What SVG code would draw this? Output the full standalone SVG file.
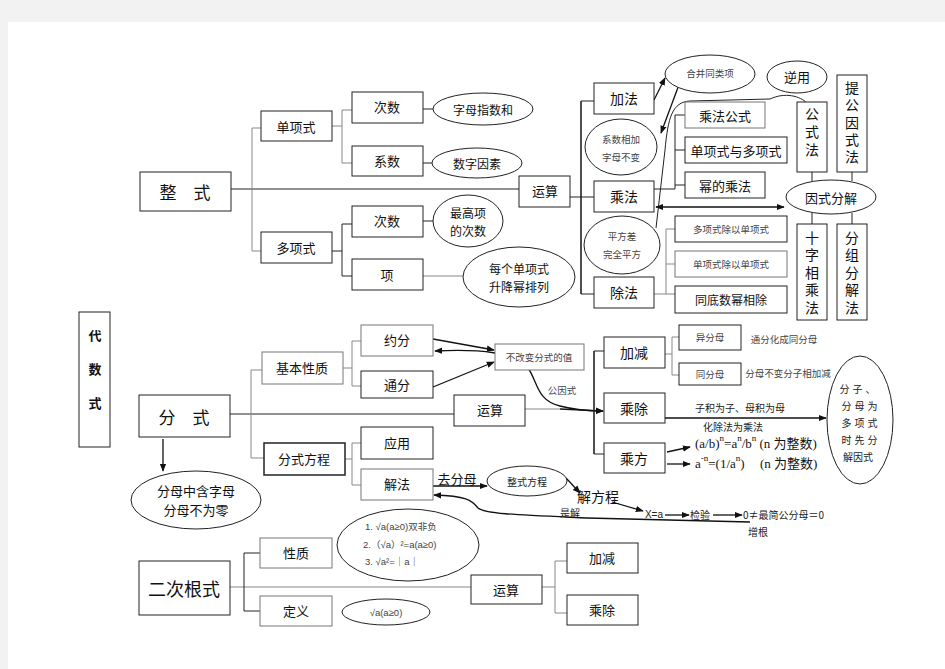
<svg xmlns="http://www.w3.org/2000/svg" width="945" height="669" viewBox="0 0 945 669">
<defs>
<marker id="ar" viewBox="0 0 10 10" refX="9" refY="5" markerWidth="8" markerHeight="8" markerUnits="userSpaceOnUse" orient="auto-start-reverse"><path d="M0,1 L10,5 L0,9 z" fill="#111"/></marker>
<style>
.b{fill:#fff;stroke:#222;stroke-width:1}
.bg{fill:#fff;stroke:#777;stroke-width:1}
.e{fill:#fff;stroke:#222;stroke-width:1}
.l{stroke:#222;stroke-width:1;fill:none}
.lg{stroke:#888;stroke-width:1;fill:none}
.a{stroke:#111;stroke-width:1.3;fill:none;marker-end:url(#ar)}
.t{font-family:"Noto Sans CJK SC","Liberation Sans",sans-serif;font-size:13px;fill:#111;text-anchor:middle;dominant-baseline:central}
.s{font-size:9.5px;fill:#444}
.m{font-size:10px;fill:#222}
.z12{font-size:12px}
.z14{font-size:14px}
.z17{font-size:17px}
.z18{font-size:18px}
.st{text-anchor:start}
.v{writing-mode:vertical-rl;dominant-baseline:auto}
.r{font-family:"Liberation Sans","Noto Sans CJK SC",sans-serif}
.f{font-family:"Liberation Serif","Noto Sans CJK SC",serif;font-size:13px;fill:#111;dominant-baseline:central}
.sup{font-size:9px}
</style>
</defs>
<rect x="0" y="0" width="945" height="669" fill="#f2f2f2"/>
<rect x="8" y="22" width="937" height="647" fill="#fff"/>

<g id="connectors">
<path class="l" d="M231 189 H519"/>
<path class="lg" d="M252 128 V251 M252 128 H261 M252 251 H261"/>
<path class="lg" d="M332 126 H342 M342 110 V163 M342 110 H352 M342 163 H352"/>
<path class="l" d="M332 251 H342 M342 224 V276 M342 224 H352 M342 276 H352"/>
<path class="l" d="M423 109 H433 M423 163 H432 M423 221 H433"/>
<path class="lg" d="M423 276 H463"/>
<path class="l" d="M570 197 H581"/>
<path class="l" style="stroke-width:1.6" d="M581 101 V294"/>
<path class="l" d="M581 101 H594 M581 197 H594 M581 294 H594"/>
<path class="a" d="M654 100 L665 78"/>
<path class="a" d="M680 82 L661 133"/>
<path class="l" d="M807 103 C800 96,785 92,770 99 L690 101 C672 102,668 118,665 150 L656 228"/>
<path class="l" d="M654 189 H675 M675 115 V189 M675 115 H685 M675 150 H685 M675 185 H685"/>
<path class="l" d="M812 172 V181 M852 172 V181 M812 213 V224 M852 213 V224"/>
<path class="a" style="marker-start:url(#ar)" d="M656 207 H784"/>
<path class="lg" d="M654 294 H666 M666 229 V294 M666 229 H675 M666 264 H675 M666 294 H675"/>
<path class="l" d="M230 414 H454"/>
<path class="lg" d="M251 370 V458 M251 370 H262 M251 458 H264"/>
<path class="lg" d="M343 368 H352 M352 341 V386 M352 341 H361 M352 386 H361"/>
<path class="lg" d="M345 459 H352 M352 443 V485 M352 443 H361 M352 485 H361"/>
<path class="a" d="M433 339 L494 350"/>
<path class="a" d="M433 387 L494 362"/>
<path class="a" style="marker-start:url(#ar)" d="M435 351 C480 349,515 352,528 368 C538 382,536 400,560 406 C575 410,590 411,603 411"/>
<path class="lg" d="M525 409 H560"/>
<path class="a" d="M560 409 L603 411"/>
<path class="l" style="stroke-width:1.6" d="M594 351 V454"/>
<path class="l" d="M594 351 H604 M594 454 H604"/>
<path class="lg" d="M665 354 H672 M672 337 V375 M672 337 H679 M672 375 H679"/>
<path class="a" d="M665 418 H826"/>
<path class="a" d="M667 452 L690 447"/>
<path class="a" d="M667 464 H690"/>
<path class="a" d="M163 439 V471"/>
<path class="a" d="M433 486 H487"/>
<path class="a" d="M566 478 L580 493"/>
<path class="a" d="M612 502 L643 511"/>
<path class="a" d="M665 515 H689"/>
<path class="a" d="M713 515 H742"/>
<path class="a" d="M750 522 L587 518 C520 515,485 514,478 508 C472 500,466 496,434 495"/>
<path class="lg" d="M230 587 H471"/>
<path class="l" d="M244 553 V611 M244 553 H260 M244 611 H260"/>
<path class="lg" d="M542 587 H555 M555 561 V613 M555 561 H567 M555 613 H567"/>
</g>

<g id="n-daishushi"><rect class="b" x="79" y="312" width="31" height="135"/><text class="t v" x="95" y="380" font-weight="bold" letter-spacing="21">代数式</text></g>

<g id="n-zhengshi"><rect class="b" x="140" y="172" width="91" height="39"/><text class="t z17" x="185" y="191">整　式</text></g>
<g id="n-danxiangshi"><rect class="b" x="261" y="111" width="71" height="30"/><text class="t" x="296" y="126">单项式</text></g>
<g id="n-duoxiangshi"><rect class="b" x="261" y="232" width="71" height="31"/><text class="t" x="296" y="247">多项式</text></g>
<g id="n-cishu1"><rect class="b" x="352" y="92" width="71" height="31"/><text class="t" x="387" y="106">次数</text></g>
<g id="n-xishu"><rect class="b" x="352" y="146" width="71" height="30"/><text class="t" x="387" y="160">系数</text></g>
<g id="n-cishu2"><rect class="b" x="352" y="206" width="71" height="31"/><text class="t" x="387" y="220">次数</text></g>
<g id="n-xiang"><rect class="b" x="352" y="259" width="71" height="31"/><text class="t" x="387" y="274">项</text></g>
<g id="e-zimu"><ellipse class="e" cx="483" cy="109" rx="50" ry="16"/><text class="t z12" x="483" y="109">字母指数和</text></g>
<g id="e-shuzi"><ellipse class="e" cx="477" cy="163" rx="45" ry="15"/><text class="t z12" x="477" y="163">数字因素</text></g>
<g id="e-zuigao"><ellipse class="e" cx="468" cy="221" rx="35" ry="26"/><text class="t z12" x="468" y="212">最高项<tspan x="468" dy="17.5">的次数</tspan></text></g>
<g id="e-meige"><ellipse class="e" cx="519" cy="277" rx="56" ry="30"/><text class="t z12" x="519" y="268">每个单项式<tspan x="519" dy="17.5">升降幂排列</tspan></text></g>
<g id="n-yunsuan1"><rect class="b" x="519" y="176" width="51" height="31"/><text class="t" x="545" y="190">运算</text></g>

<g id="n-jiafa"><rect class="b" x="594" y="83" width="60" height="31"/><text class="t z14" x="624" y="98">加法</text></g>
<g id="n-chengfa"><rect class="b" x="594" y="181" width="60" height="31"/><text class="t z14" x="624" y="196">乘法</text></g>
<g id="n-chufa"><rect class="b" x="594" y="277" width="60" height="31"/><text class="t z14" x="624" y="292">除法</text></g>
<g id="e-hebing"><ellipse class="e" cx="710" cy="74" rx="45" ry="19"/><text class="t s" x="710" y="73">合并同类项</text></g>
<g id="e-xishuxiangjia"><ellipse class="e" cx="621" cy="147" rx="36" ry="28"/><text class="t s" x="621" y="139">系数相加<tspan x="621" dy="18">字母不变</tspan></text></g>
<g id="e-pingfangcha"><ellipse class="e" cx="622" cy="245" rx="38" ry="29"/><text class="t s" x="622" y="236">平方差<tspan x="622" dy="18">完全平方</tspan></text></g>
<g id="e-niyong"><ellipse class="e" cx="797" cy="77" rx="30" ry="16"/><text class="t" x="797" y="76">逆用</text></g>
<g id="n-chengfagongshi"><rect class="bg" x="685" y="102" width="80" height="26"/><text class="t" x="725" y="115">乘法公式</text></g>
<g id="n-danxiangshiyu"><rect class="b" x="685" y="137" width="102" height="26"/><text class="t" x="736" y="150">单项式与多项式</text></g>
<g id="n-mi"><rect class="b" x="685" y="172" width="80" height="26"/><text class="t" x="725" y="185">幂的乘法</text></g>
<g id="n-gongshifa"><rect class="b" x="797" y="102" width="30" height="70"/><text class="t z14 v" x="812" y="134" letter-spacing="4">公式法</text></g>
<g id="n-tigong"><rect class="b" x="837" y="75" width="30" height="97"/><text class="t z14 v" x="852" y="124" letter-spacing="3.3">提公因式法</text></g>
<g id="e-yinshi"><ellipse class="e" cx="831" cy="197" rx="45" ry="17"/><text class="t" x="831" y="197">因式分解</text></g>
<g id="n-shizi"><rect class="b" x="797" y="224" width="30" height="96"/><text class="t z14 v" x="812" y="274" letter-spacing="3.5">十字相乘法</text></g>
<g id="n-fenzu"><rect class="b" x="837" y="224" width="30" height="96"/><text class="t z14 v" x="852" y="274" letter-spacing="3.5">分组分解法</text></g>
<g id="n-duoxiangchu"><rect class="b" x="675" y="216" width="112" height="26"/><text class="t s" x="731" y="229">多项式除以单项式</text></g>
<g id="n-danxiangchu"><rect class="bg" x="675" y="251" width="112" height="26"/><text class="t s" x="731" y="264">单项式除以单项式</text></g>
<g id="n-tongdi"><rect class="b" x="675" y="286" width="112" height="27"/><text class="t z12" x="731" y="299">同底数幂相除</text></g>

<g id="n-fenshi"><rect class="b" x="139" y="395" width="91" height="42"/><text class="t z17" x="184" y="416">分　式</text></g>
<g id="n-jiben"><rect class="bg" x="262" y="352" width="81" height="32"/><text class="t" x="302" y="367">基本性质</text></g>
<g id="n-fenshifangcheng"><rect class="b" style="stroke-width:1.5" x="264" y="443" width="81" height="32"/><text class="t" x="304" y="458">分式方程</text></g>
<g id="n-yuefen"><rect class="bg" x="361" y="325" width="72" height="31"/><text class="t" x="397" y="339">约分</text></g>
<g id="n-tongfen"><rect class="b" x="361" y="371" width="72" height="27"/><text class="t" x="397" y="384">通分</text></g>
<g id="n-bugaibian"><rect class="bg" x="495" y="344" width="89" height="26"/><text class="t s" x="539" y="357">不改变分式的值</text></g>
<text class="t s" x="562" y="390">公因式</text>
<g id="n-yunsuan2"><rect class="b" x="454" y="395" width="71" height="31"/><text class="t" x="490" y="409">运算</text></g>
<g id="n-jiajian"><rect class="b" x="604" y="337" width="61" height="31"/><text class="t z14" x="634" y="352">加减</text></g>
<g id="n-chengchu"><rect class="b" x="604" y="393" width="61" height="30"/><text class="t z14" x="634" y="408">乘除</text></g>
<g id="n-chengfang"><rect class="b" x="604" y="443" width="61" height="30"/><text class="t z14" x="634" y="458">乘方</text></g>
<g id="n-yifenmu"><rect class="b" x="679" y="325" width="62" height="25"/><text class="t s" x="710" y="337">异分母</text></g>
<g id="n-tongfenmu"><rect class="b" x="679" y="363" width="62" height="22"/><text class="t s" x="710" y="374">同分母</text></g>
<text class="t s" x="784" y="339">通分化成同分母</text>
<text class="t s" x="788" y="373">分母不变分子相加减</text>
<text class="t m" x="740" y="407">子积为子、母积为母</text>
<text class="t m" x="733" y="426">化除法为乘法</text>
<g id="e-big"><ellipse class="e" cx="860" cy="420" rx="33" ry="64"/><text class="t m" x="859" y="388" letter-spacing="3">分子、<tspan x="861" dy="17">分母为</tspan><tspan x="861" dy="17">多项式</tspan><tspan x="861" dy="17">时先分</tspan><tspan x="858" dy="17" letter-spacing="0">解因式</tspan></text></g>
<text class="f" x="695" y="443">(a/b)<tspan class="sup" dy="-5">n</tspan><tspan dy="5">=a</tspan><tspan class="sup" dy="-5">n</tspan><tspan dy="5">/b</tspan><tspan class="sup" dy="-5">n</tspan><tspan dy="5"> (n 为整数)</tspan></text>
<text class="f" x="695" y="463">a<tspan class="sup" dy="-5">-n</tspan><tspan dy="5">=(1/a</tspan><tspan class="sup" dy="-5">n</tspan><tspan dy="5">)</tspan><tspan x="760">(n 为整数)</tspan></text>

<g id="e-fenmu"><ellipse class="e" cx="196" cy="500" rx="65" ry="29"/><text class="t" x="196" y="490">分母中含字母<tspan x="196" dy="19">分母不为零</tspan></text></g>
<g id="n-yingyong"><rect class="b" x="361" y="427" width="72" height="32"/><text class="t" x="397" y="442">应用</text></g>
<g id="n-jiefa"><rect class="bg" x="361" y="469" width="72" height="31"/><text class="t" x="397" y="483">解法</text></g>
<text class="t" x="457" y="478">去分母</text>
<g id="e-zhengshifangcheng"><ellipse class="e" cx="527" cy="481" rx="40" ry="15"/><text class="t m" x="527" y="481">整式方程</text></g>
<text class="t z14" x="598" y="496">解方程</text>
<text class="t m r" x="654" y="514">X=a</text>
<text class="t m" x="700" y="514">检验</text>
<text class="t m st" x="743" y="514">0≠最简公分母＝0</text>
<text class="t m" x="758" y="531">增根</text>
<text class="t m" x="570" y="512">是解</text>

<g id="n-ercigenshi"><rect class="b" x="139" y="561" width="91" height="54"/><text class="t z18" x="184" y="588">二次根式</text></g>
<g id="n-xingzhi"><rect class="bg" x="260" y="538" width="72" height="30"/><text class="t" x="296" y="552">性质</text></g>
<g id="n-dingyi"><rect class="bg" x="260" y="596" width="72" height="30"/><text class="t" x="296" y="610">定义</text></g>
<g id="e-props"><ellipse class="e" cx="408" cy="545" rx="71" ry="36"/><text class="t s st r" x="365" y="526">1. √a(a≥0)双非负<tspan x="363" dy="17.5">2.（√a）²=a(a≥0)</tspan><tspan x="365" dy="17.5">3.  √a²=｜a｜</tspan></text></g>
<g id="e-def"><ellipse class="e" cx="386" cy="612" rx="44" ry="13"/><text class="t s r" x="386" y="612">√a(a≥0)</text></g>
<g id="n-yunsuan3"><rect class="b" x="471" y="575" width="71" height="29"/><text class="t" x="506" y="589">运算</text></g>
<g id="n-jiajian3"><rect class="b" x="567" y="543" width="71" height="30"/><text class="t" x="602" y="557">加减</text></g>
<g id="n-chengchu3"><rect class="b" x="567" y="595" width="71" height="30"/><text class="t" x="602" y="609">乘除</text></g>
</svg>
